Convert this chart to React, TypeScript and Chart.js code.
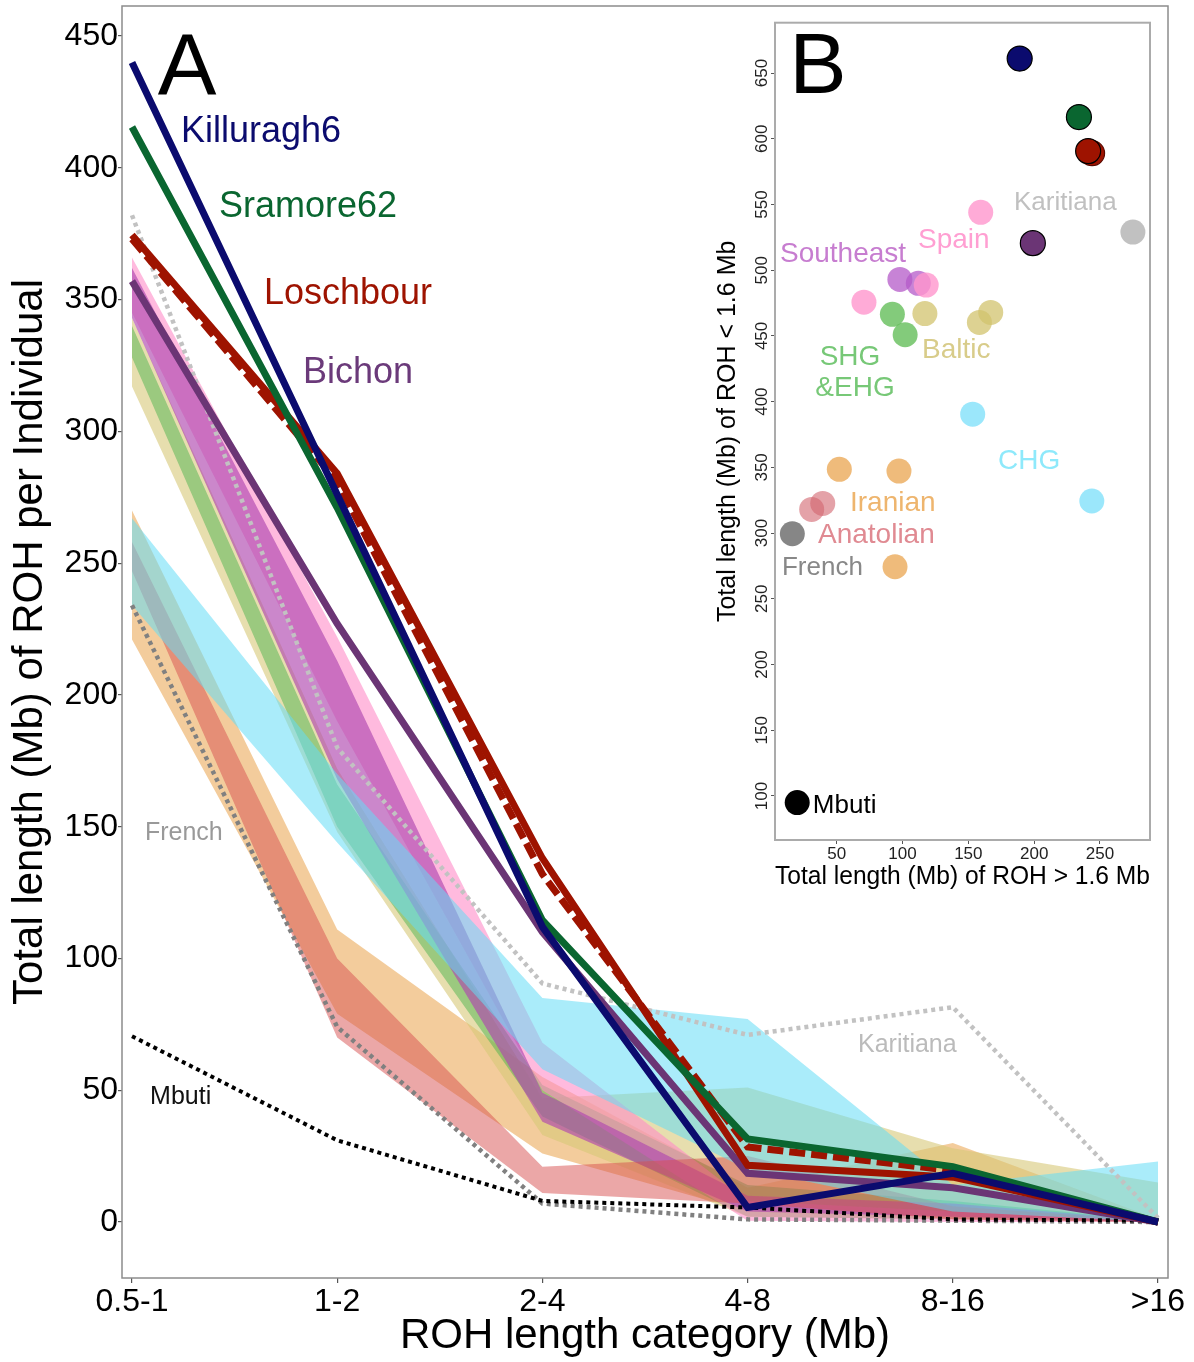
import React, { useEffect, useRef } from "react";
import { Chart, registerables } from "chart.js";

Chart.register(...registerables);

const FONT = '"Liberation Sans", Arial, Helvetica, sans-serif';
Chart.defaults.font.family = FONT;

// ---------------- Panel A data ----------------
const categories = ["0.5-1", "1-2", "2-4", "4-8", "8-16", ">16"];
const yTicksA = [0, 50, 100, 150, 200, 250, 300, 350, 400, 450];

const killuragh6 = [440, 276, 112, 5.5, 18.5, 0];
const sramore62 = [415.5, 271, 114.5, 31.5, 21, 0];
const loschbour = [374.5, 284, 138, 21.5, 17, 0];
const loschbourAlt = [373, 281, 132, 28.5, 19.5, 0];
const bichon = [357, 227, 110, 18.5, 13, 0];
const karitiana = [382, 180, 90.5, 71, 81.5, 1.5];
const french = [234, 74, 7, 1, 0.5, 0];
const mbuti = [70.5, 31, 8, 5.5, 1, 0.5];

const iranianLow = [221, 79, 26, 4, 1, 0];
const iranianHigh = [270, 111, 55, 13, 30, 1];
const balticLow = [317, 148, 33, 2, 1, 0];
const balticHigh = [343, 172, 47, 51, 28, 15];
const anatolianLow = [247, 70, 11, 7, 1, 0];
const anatolianHigh = [258, 100, 21, 25, 6, 0.5];
const shgLow = [328, 150, 40, 2, 1, 0];
const shgHigh = [340, 166, 52, 14, 8, 0.5];
const spainLow = [345, 190, 50, 0.5, 0, 0];
const spainHigh = [366, 222, 68, 8, 4, 0.5];
const southeastLow = [343, 168, 38, 4, 2, 0];
const southeastHigh = [362, 213, 49, 10, 7, 0.5];
const chgLow = [234, 144, 58, 20, 4, 0];
const chgHigh = [267, 170, 85, 77, 14, 23];

// ---------------- Panel B data ----------------
const insetXTicks = [50, 100, 150, 200, 250];
const insetYTicks = [100, 150, 200, 250, 300, 350, 400, 450, 500, 550, 600, 650];

const bKilluraghX = [189];
const bKilluraghY = [661];
const bSramoreX = [234];
const bSramoreY = [616.5];
const bLoschbourX = [241];
const bLoschbourY = [590.6];
const bLoschbourAltX = [244];
const bLoschbourAltY = [589];
const bBichonX = [199];
const bBichonY = [520.6];
const bKaritianaX = [275];
const bKaritianaY = [529];
const bSpainX = [159.4, 70.7, 118];
const bSpainY = [544, 475.7, 488.7];
const bSoutheastX = [98, 112];
const bSoutheastY = [493, 490];
const bShgX = [92.3, 102];
const bShgY = [466.4, 450.9];
const bBalticX = [117, 158.4, 167];
const bBalticY = [467, 460.3, 467.9];
const bChgX = [153.3, 243.8];
const bChgY = [390.5, 324.4];
const bIranianX = [52, 97.3, 94.3];
const bIranianY = [348.5, 347.2, 274.4];
const bAnatolianX = [31, 39.4];
const bAnatolianY = [318, 322.6];
const bFrenchX = [16.3];
const bFrenchY = [299.5];
const bMbutiX = [20];
const bMbutiY = [95];

type Note = {
  text: string;
  x: number;
  y: number;
  color: string;
  size: number;
  align?: CanvasTextAlign;
  baseline?: CanvasTextBaseline;
};

const notesA: Note[] = [
  { text: "A", x: 0.268, y: 427.6, color: "#000", size: 88, align: "center", baseline: "alphabetic" },
  { text: "Killuragh6", x: 0.239, y: 413.6, color: "#0b0b6e", size: 36 },
  { text: "Sramore62", x: 0.424, y: 385.1, color: "#0a6630", size: 36 },
  { text: "Loschbour", x: 0.643, y: 352.1, color: "#9e1300", size: 36 },
  { text: "Bichon", x: 0.833, y: 322.1, color: "#6b3a7a", size: 36 },
  { text: "French", x: 0.063, y: 147.6, color: "#999999", size: 25 },
  { text: "Mbuti", x: 0.088, y: 47.4, color: "#111111", size: 25 },
  { text: "Karitiana", x: 3.538, y: 67.2, color: "#bbbbbb", size: 25 },
];

const notesB: Note[] = [
  { text: "B", x: 35.8, y: 634.5, color: "#000", size: 86, align: "center", baseline: "alphabetic" },
  { text: "Karitiana", x: 184.7, y: 551, color: "#c0c0c0", size: 26 },
  { text: "Spain", x: 111.8, y: 523, color: "#ff9fd2", size: 28 },
  { text: "Southeast", x: 6.9, y: 512.2, color: "#c77dd0", size: 28 },
  { text: "SHG", x: 60.1, y: 433.9, color: "#77c877", size: 28, align: "center" },
  { text: "&EHG", x: 63.9, y: 410.3, color: "#77c877", size: 28, align: "center" },
  { text: "Baltic", x: 114.8, y: 439.2, color: "#d8cc8a", size: 28 },
  { text: "CHG", x: 172.6, y: 354.7, color: "#8ee9fb", size: 28 },
  { text: "Iranian", x: 60.1, y: 322.8, color: "#eeb56e", size: 28 },
  { text: "Anatolian", x: 35.8, y: 298.4, color: "#e08a92", size: 28 },
  { text: "French", x: 8.4, y: 273.3, color: "#888888", size: 26 },
  { text: "Mbuti", x: 31.9, y: 92.2, color: "#000000", size: 26 },
];

const notesPlugin = (id: string, notes: Note[]) => ({
  id,
  afterDatasetsDraw(chart: any) {
    const { ctx, scales } = chart;
    ctx.save();
    for (const n of notes) {
      ctx.font = `${n.size}px ${FONT}`;
      ctx.fillStyle = n.color;
      ctx.textAlign = n.align ?? "left";
      ctx.textBaseline = n.baseline ?? "middle";
      ctx.fillText(n.text, scales.x.getPixelForValue(n.x), scales.y.getPixelForValue(n.y));
    }
    ctx.restore();
  },
});

const framePlugin = (id: string, color: string, width: number) => ({
  id,
  afterDraw(chart: any) {
    const { ctx, chartArea } = chart;
    ctx.save();
    ctx.strokeStyle = color;
    ctx.lineWidth = width;
    ctx.strokeRect(chartArea.left, chartArea.top, chartArea.right - chartArea.left, chartArea.bottom - chartArea.top);
    ctx.restore();
  },
});

const insetYLabelsPlugin = {
  id: "insetYLabels",
  afterDraw(chart: any) {
    const { ctx } = chart;
    const ys = chart.scales.y;
    ctx.save();
    ctx.font = `17px ${FONT}`;
    ctx.fillStyle = "#222";
    ctx.textAlign = "center";
    ctx.textBaseline = "middle";
    for (const v of insetYTicks) {
      ctx.save();
      ctx.translate(ys.right - 13, ys.getPixelForValue(v));
      ctx.rotate(-Math.PI / 2);
      ctx.fillText(String(v), 0, 0);
      ctx.restore();
    }
    ctx.restore();
  },
};

const toXY = (vals: number[]) => vals.map((v, i) => ({ x: i, y: v }));
const zipXY = (xs: number[], ys: number[]) => xs.map((x, i) => ({ x, y: ys[i] }));

function buildDatasetsA() {
  const ds: any[] = [];
  const line = (label: string, vals: number[], color: string, width: number, dash: number[], order: number) =>
    ds.push({
      type: "line",
      label,
      data: toXY(vals),
      borderColor: color,
      borderWidth: width,
      borderDash: dash,
      borderCapStyle: "butt",
      borderJoinStyle: "miter",
      pointRadius: 0,
      fill: false,
      tension: 0,
      order,
    });
  line("Killuragh6", killuragh6, "#0b0b6e", 7, [], 0);
  line("Sramore62", sramore62, "#0a6630", 7, [], 1);
  line("Loschbour", loschbour, "#9e1300", 7, [], 2);
  line("Loschbour (alt)", loschbourAlt, "#9e1300", 7, [16, 6], 3);
  line("Bichon", bichon, "#6b3575", 7, [], 4);
  line("Mbuti", mbuti, "#000000", 4, [4, 4], 5);
  line("French", french, "#808080", 4.5, [4, 4], 6);
  line("Karitiana", karitiana, "#c2c2c2", 4.5, [4, 4], 7);

  const bands = [
    { name: "Iranian", low: iranianLow, high: iranianHigh, color: "rgba(235,170,90,0.6)" },
    { name: "Baltic", low: balticLow, high: balticHigh, color: "rgba(215,200,120,0.6)" },
    { name: "SHG&EHG", low: shgLow, high: shgHigh, color: "rgba(80,180,80,0.5)" },
    { name: "Spain", low: spainLow, high: spainHigh, color: "rgba(255,140,200,0.6)" },
    { name: "Southeast", low: southeastLow, high: southeastHigh, color: "rgba(175,70,175,0.65)" },
    { name: "Anatolian", low: anatolianLow, high: anatolianHigh, color: "rgba(215,80,80,0.5)" },
    { name: "CHG", low: chgLow, high: chgHigh, color: "rgba(100,220,245,0.55)" },
  ];
  bands.forEach((b, i) => {
    const order = 100 - i * 2;
    ds.push({
      type: "line",
      label: b.name + " low",
      data: toXY(b.low),
      borderColor: "transparent",
      borderWidth: 0,
      pointRadius: 0,
      fill: false,
      tension: 0,
      order,
    });
    ds.push({
      type: "line",
      label: b.name,
      data: toXY(b.high),
      borderColor: "transparent",
      borderWidth: 0,
      pointRadius: 0,
      backgroundColor: b.color,
      fill: "-1",
      tension: 0,
      order,
    });
  });
  return ds;
}

function buildDatasetsB() {
  const pt = (label: string, xs: number[], ys: number[], color: string, border: string, bw: number, order: number) => ({
    label,
    data: zipXY(xs, ys),
    pointRadius: 12.5,
    pointBackgroundColor: color,
    pointBorderColor: border,
    pointBorderWidth: bw,
    order,
  });
  return [
    pt("Killuragh6", bKilluraghX, bKilluraghY, "#0b0b6e", "#000", 1.2, 0),
    pt("Sramore62", bSramoreX, bSramoreY, "#0a6630", "#000", 1.2, 1),
    pt("Loschbour", bLoschbourX, bLoschbourY, "#9e1300", "#000", 1.2, 2),
    pt("Loschbour (alt)", bLoschbourAltX, bLoschbourAltY, "#9e1300", "#5a0a00", 1.2, 3),
    pt("Bichon", bBichonX, bBichonY, "#6b3575", "#000", 1.2, 4),
    pt("Karitiana", bKaritianaX, bKaritianaY, "rgba(190,190,190,0.95)", "transparent", 0, 5),
    pt("Spain", bSpainX, bSpainY, "rgba(255,150,205,0.8)", "transparent", 0, 6),
    pt("Southeast", bSoutheastX, bSoutheastY, "rgba(180,90,200,0.75)", "transparent", 0, 7),
    pt("SHG&EHG", bShgX, bShgY, "rgba(100,190,90,0.8)", "transparent", 0, 8),
    pt("Baltic", bBalticX, bBalticY, "rgba(210,195,110,0.75)", "transparent", 0, 9),
    pt("CHG", bChgX, bChgY, "rgba(130,225,250,0.8)", "transparent", 0, 10),
    pt("Iranian", bIranianX, bIranianY, "rgba(235,170,90,0.8)", "transparent", 0, 11),
    pt("Anatolian", bAnatolianX, bAnatolianY, "rgba(210,100,110,0.6)", "transparent", 0, 12),
    pt("French", bFrenchX, bFrenchY, "rgba(128,128,128,0.95)", "transparent", 0, 13),
    pt("Mbuti", bMbutiX, bMbutiY, "#000000", "transparent", 0, 14),
  ];
}

export default function App() {
  const mainRef = useRef<HTMLCanvasElement | null>(null);
  const insetRef = useRef<HTMLCanvasElement | null>(null);

  useEffect(() => {
    if (!mainRef.current || !insetRef.current) return;

    const main = new Chart(mainRef.current, {
      type: "line",
      data: { datasets: buildDatasetsA() },
      options: {
        responsive: false,
        animation: false,
        devicePixelRatio: 1,
        layout: { padding: { top: 6, right: 26, left: 0, bottom: 0 } },
        plugins: { legend: { display: false }, tooltip: { enabled: false } },
        scales: {
          x: {
            type: "linear",
            min: -0.0487,
            max: 5.0487,
            afterBuildTicks: (s: any) => {
              s.ticks = categories.map((_, i) => ({ value: i }));
            },
            afterFit: (s: any) => {
              s.height = 84;
              s.paddingLeft = 0;
              s.paddingRight = 0;
            },
            ticks: {
              callback: (v: any) => categories[Math.round(Number(v))] ?? "",
              font: { size: 32 },
              color: "#000",
              padding: 0,
              autoSkip: false,
              maxRotation: 0,
            },
            grid: { drawOnChartArea: false, drawTicks: true, tickLength: 5, color: "#555", lineWidth: 1.2 },
            border: { display: false },
            title: {
              display: true,
              text: "ROH length category (Mb)",
              font: { size: 42 },
              color: "#000",
              padding: { top: 0, bottom: 0 },
            },
          },
          y: {
            type: "linear",
            min: -21.25,
            max: 461.4,
            afterBuildTicks: (s: any) => {
              s.ticks = yTicksA.map((v) => ({ value: v }));
            },
            afterFit: (s: any) => {
              s.width = 122;
              s.paddingTop = 0;
              s.paddingBottom = 0;
            },
            ticks: { font: { size: 32 }, color: "#000", padding: 0 },
            grid: { drawOnChartArea: false, drawTicks: true, tickLength: 4, color: "#555", lineWidth: 1.2 },
            border: { display: false },
            title: {
              display: true,
              text: "Total length (Mb) of ROH per Individual",
              font: { size: 42 },
              color: "#000",
              padding: { top: 5, bottom: 0 },
            },
          },
        },
      },
      plugins: [notesPlugin("notesA", notesA), framePlugin("frameA", "#8c8c8c", 1.5)],
    } as any);

    const inset = new Chart(insetRef.current, {
      type: "scatter",
      data: { datasets: buildDatasetsB() as any },
      options: {
        responsive: false,
        animation: false,
        devicePixelRatio: 1,
        layout: { padding: { top: 22.7, right: 44, left: 0, bottom: 0 } },
        plugins: { legend: { display: false }, tooltip: { enabled: false } },
        scales: {
          x: {
            type: "linear",
            min: 3.13,
            max: 288,
            afterBuildTicks: (s: any) => {
              s.ticks = insetXTicks.map((v) => ({ value: v }));
            },
            afterFit: (s: any) => {
              s.height = 60;
              s.paddingLeft = 0;
              s.paddingRight = 0;
            },
            ticks: { font: { size: 17 }, color: "#222", padding: 0, maxRotation: 0 },
            grid: { drawOnChartArea: false, drawTicks: true, tickLength: 4, color: "#555", lineWidth: 1 },
            border: { display: false },
            title: {
              display: true,
              text: "Total length (Mb) of ROH > 1.6 Mb",
              font: { size: 25 },
              color: "#000",
              padding: { top: 0, bottom: 8.3 },
            },
          },
          y: {
            type: "linear",
            min: 66.5,
            max: 688.3,
            afterBuildTicks: (s: any) => {
              s.ticks = insetYTicks.map((v) => ({ value: v }));
            },
            afterFit: (s: any) => {
              s.width = 75;
              s.paddingTop = 0;
              s.paddingBottom = 0;
            },
            ticks: { display: false },
            grid: { drawOnChartArea: false, drawTicks: true, tickLength: 4, color: "#555", lineWidth: 1 },
            border: { display: false },
            title: {
              display: true,
              text: "Total length (Mb) of ROH < 1.6 Mb",
              font: { size: 25 },
              color: "#000",
              padding: { top: 13, bottom: 0 },
            },
          },
        },
      },
      plugins: [notesPlugin("notesB", notesB), framePlugin("frameB", "#ababab", 2), insetYLabelsPlugin],
    } as any);

    return () => {
      main.destroy();
      inset.destroy();
    };
  }, []);

  return (
    <div style={{ position: "absolute", left: 0, top: 0, width: 1194, height: 1362, background: "#fff" }}>
      <canvas ref={mainRef} width={1194} height={1362} style={{ position: "absolute", left: 0, top: 0, width: 1194, height: 1362 }} />
      <canvas ref={insetRef} width={494} height={900} style={{ position: "absolute", left: 700, top: 0, width: 494, height: 900 }} />
    </div>
  );
}
